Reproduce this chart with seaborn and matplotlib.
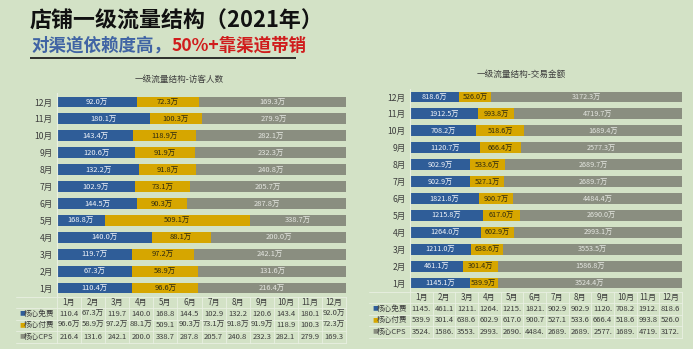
import numpy as np
import pandas as pd
import matplotlib
matplotlib.use("Agg")
import matplotlib.pyplot as plt
import seaborn as sns

# ---------------- data ----------------
months = [f"{i}月" for i in range(1, 13)]
series = ["核心免费", "核心付费", "核心CPS"]

uv_free = [110.4, 67.3, 119.7, 140.0, 168.8, 144.5, 102.9, 132.2, 120.6, 143.4, 180.1, 92.0]
uv_paid = [96.6, 58.9, 97.2, 88.1, 509.1, 90.3, 73.1, 91.8, 91.9, 118.9, 100.3, 72.3]
uv_cps = [216.4, 131.6, 242.1, 200.0, 338.7, 287.8, 205.7, 240.8, 232.3, 282.1, 279.9, 169.3]

gmv_free = [1145.1, 461.1, 1211.0, 1264.0, 1215.8, 1821.8, 902.9, 902.9, 1120.7, 708.2, 1912.5, 818.6]
gmv_paid = [539.9, 301.4, 638.6, 602.9, 617.0, 900.7, 527.1, 533.6, 666.4, 518.6, 993.8, 526.0]
gmv_cps = [3524.4, 1586.8, 3553.5, 2993.1, 2690.0, 4484.4, 2689.7, 2689.7, 2577.3, 1689.4, 4719.7, 3172.3]

title = "店铺一级流量结构（2021年）"
sub_a = "对渠道依赖度高，"
sub_b = "50%+靠渠道带销"
left_title = "一级流量结构-访客人数"
right_title = "一级流量结构-交易金额"

# ---------------- style ----------------
sns.set_style("white")
plt.rcParams["font.family"] = ["Noto Sans CJK SC", "DejaVu Sans"]

BG = "#d3e2c6"
BLUE = "#2f5d98"
GOLD = "#d6a600"
GREY = "#8a8e80"
GRID = "#e9f0e2"
TXT = "#3c3c3c"

W, H = 693, 349
fig = plt.figure(figsize=(W / 100, H / 100), dpi=100, facecolor=BG)
ov = fig.add_axes([0, 0, 1, 1], zorder=0)
ov.set_xlim(0, W)
ov.set_ylim(H, 0)
ov.axis("off")

# header texts
ov.text(30, 21, title, fontsize=15.8, fontweight="bold", color="#111111", va="center", ha="left")
ta = ov.text(31, 46, sub_a, fontsize=12.6, fontweight="bold", color="#4064a4", va="center", ha="left")
fig.canvas.draw()
bb = ta.get_window_extent(fig.canvas.get_renderer())
x_end = bb.x1
ov.text(x_end + 1, 46, sub_b, fontsize=12.6, fontweight="bold", color="#d01c1c", va="center", ha="left")
ov.plot([30, 296], [58, 58], color="#111111", lw=1.2, solid_capstyle="butt")


def panel(x0, y0, x1, y1, free, paid, cps, ptitle, tcx, tcy, lab_x, lfs):
    ax = fig.add_axes([x0 / W, 1 - y1 / H, (x1 - x0) / W, (y1 - y0) / H], zorder=2)
    ax.set_facecolor("none")
    df = pd.DataFrame({"month": months, "free": free, "paid": paid, "cps": cps})
    tot = df[["free", "paid", "cps"]].sum(axis=1)
    df["p_free"] = df["free"] / tot
    df["p_paid"] = df["paid"] / tot
    df["p_cps"] = df["cps"] / tot
    df["c_all"] = df["p_free"] + df["p_paid"] + df["p_cps"]
    df["c_fp"] = df["p_free"] + df["p_paid"]
    order = months[::-1]
    for col, c in [("c_all", GREY), ("c_fp", GOLD), ("p_free", BLUE)]:
        sns.barplot(data=df, x=col, y="month", order=order, orient="h", color=c,
                    width=0.64, saturation=1, errorbar=None, ax=ax, linewidth=0)
    ax.set_xlim(0, 1)
    ax.set_ylim(len(order) - 0.5, -0.5)
    ax.set_xlabel("")
    ax.set_ylabel("")
    ax.set_xticks([])
    ax.tick_params(axis="y", length=0, pad=3, labelsize=6.2, labelcolor=TXT)
    for s in ["top", "right", "bottom"]:
        ax.spines[s].set_visible(False)
    ax.spines["left"].set_color(GRID)
    ax.spines["left"].set_linewidth(0.8)

    d = df.set_index("month")
    for i, m in enumerate(order):
        r = d.loc[m]
        ax.text(r.p_free / 2, i, f"{r.free:.1f}万", ha="center", va="center",
                fontsize=lfs, color="#f2f5fa")
        ax.text(r.p_free + r.p_paid / 2, i, f"{r.paid:.1f}万", ha="center", va="center",
                fontsize=lfs, color="#2e2a10")
        ax.text(r.c_fp + r.p_cps / 2, i, f"{r.cps:.1f}万", ha="center", va="center",
                fontsize=lfs, color="#e4e6e0")

    ov.text(tcx, tcy, ptitle, fontsize=6.2, color=TXT, ha="center", va="center")

    # data table under the bars
    rh = 11.5
    cw = (x1 - x0) / 12
    ty = y1
    rows = [free, paid, cps]
    cols = [BLUE, GOLD, GREY]
    for k in range(13):
        ov.plot([x0 + k * cw] * 2, [ty, ty + 4 * rh], color=GRID, lw=0.6)
    for j in range(5):
        ov.plot([lab_x - 3, x1], [ty + j * rh] * 2, color=GRID, lw=0.6)
    for k, m in enumerate(months):
        ov.text(x0 + (k + 0.5) * cw, ty + 0.5 * rh, m, fontsize=5.8, color=TXT,
                ha="center", va="center")
    for j, (name, vals, c) in enumerate(zip(series, rows, cols)):
        yy = ty + (j + 1.5) * rh
        ov.text(lab_x, yy, "■", fontsize=4.3, color=c, ha="left", va="center")
        ov.text(lab_x + 5, yy, name, fontsize=5.5, color=TXT, ha="left", va="center")
        for k, v in enumerate(vals):
            ov.text(x0 + (k + 0.5) * cw, yy, f"{v:.1f}万"[:5], fontsize=5.5,
                    color=TXT, ha="center", va="center")


panel(57, 93.5, 346, 296.5, uv_free, uv_paid, uv_cps, left_title, 179, 79, 19, 5.4)
panel(410, 88.5, 682, 291.5, gmv_free, gmv_paid, gmv_cps, right_title, 521, 74, 372, 5.2)

fig.savefig("out.png", dpi=100, facecolor=BG)
